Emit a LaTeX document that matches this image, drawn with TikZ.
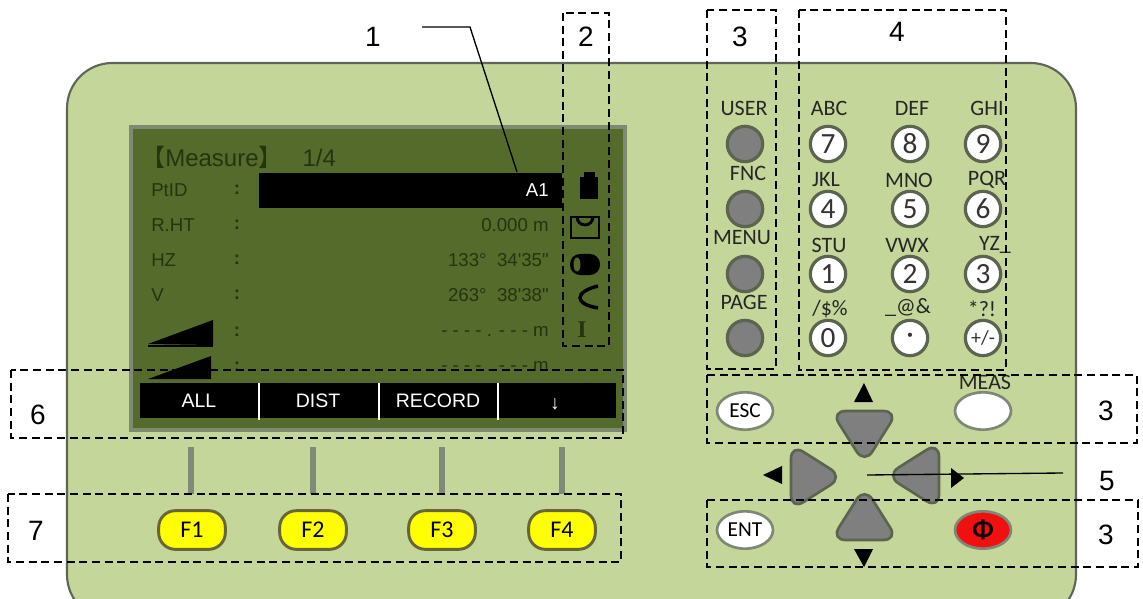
\documentclass[tikz,border=0pt]{standalone}
\usepackage{fontspec}
\setmainfont{Liberation Sans}
\newfontfamily\lcdfont{Liberation Sans}
\newfontfamily\iconfont{Liberation Serif}
\newfontfamily\keyfont{Carlito}
\newfontfamily\cjkfont{Noto Sans CJK SC}
\usetikzlibrary{arrows.meta,positioning,calc,shapes.geometric}
\definecolor{BodyGreen}{HTML}{C4D699}
\definecolor{BodyRim}{HTML}{5F6657}
\definecolor{LcdGreen}{HTML}{556B2B}
\definecolor{LcdRim}{HTML}{7E8A72}
\definecolor{LcdInk}{HTML}{26330F}
\definecolor{KeyGray}{HTML}{7F7F7F}
\definecolor{KeyRim}{HTML}{5C6450}
\definecolor{OvalRim}{HTML}{7F8876}
\definecolor{StemGray}{HTML}{7F8A78}
\definecolor{SoftYellow}{HTML}{FFFF00}
\definecolor{SoftRim}{HTML}{66663A}
\definecolor{PowerRed}{HTML}{F01010}
\tikzset{
  group/.style={draw=black,dashed,dash pattern=on 6pt off 3.5pt,line width=1.4pt},
  callout/.style={font=\fontsize{21}{24}\selectfont,inner sep=0pt},
  leader/.style={draw=black,line width=1pt},
  lcdlabel/.style={font=\lcdfont\fontsize{14}{16}\selectfont,text=LcdInk,inner sep=0pt},
  lcdvalue/.style={lcdlabel,anchor=east},
  softlabel/.style={font=\lcdfont\fontsize{14.6}{16}\selectfont,text=white,inner sep=0pt},
  keylabel/.style={font=\keyfont\fontsize{16.5}{18}\selectfont,text=black!85,inner sep=0pt},
  roundkey/.style={circle,draw=KeyRim,line width=2.4pt,minimum size=26.5pt,inner sep=0pt},
  graykey/.style={roundkey,fill=KeyGray},
  numkey/.style={roundkey,fill=white,font=\keyfont\fontsize{22}{24}\selectfont,text=black!80},
  ovalkey/.style={ellipse,draw=OvalRim,line width=2pt,fill=white,minimum width=42pt,minimum height=28pt,
    inner sep=0pt,font=\keyfont\fontsize{16}{18}\selectfont},
  softkey/.style={rectangle,rounded corners=12.5pt,draw=SoftRim,line width=2.2pt,fill=SoftYellow,
    minimum width=50pt,minimum height=29pt,inner sep=0pt,font=\keyfont\fontsize{18}{20}\selectfont},
  padkey/.style={draw=KeyRim,line width=2pt,fill=KeyGray,rounded corners=11pt},
  stem/.style={draw=StemGray,line width=5.2pt},
}
\begin{document}
\begin{tikzpicture}[x=.75pt,y=-.75pt,>=Latex]
  \clip (0,0) rectangle (1143,599);
  \draw[fill=BodyGreen,draw=BodyRim,line width=1.6pt,rounded corners=34pt] (67,63) rectangle (1076,620);

  \draw[fill=LcdGreen,draw=LcdRim,line width=2.4pt] (131,127) rectangle (625,430);
  \node[anchor=west,inner sep=0pt,text=LcdInk,font=\fontsize{18}{20}\selectfont] (title) at (141,157)
    {{\cjkfont 【}Measure{\cjkfont 】}\hspace{10pt} 1/4};
  \fill[black] (259,173) rectangle (562,208);
  \foreach \name/\txt/\rowy in {ptid/PtID/190,rht/R.HT/225,hz/HZ/260,vert/V/295}
    \node[lcdlabel,anchor=west] (\name) at (151,\rowy) {\txt};
  \foreach \rowy [count=\i] in {190,225,260,295,332,367}
    \node[lcdlabel,font=\lcdfont\bfseries\fontsize{14}{16}\selectfont] (colon\i) at (237,\rowy) {:};
  \node[lcdvalue,text=white] (ptval) at (549,190) {A1};
  \node[lcdvalue] (rhtval) at (549,225) {0.000 m};
  \node[lcdvalue] (hzval) at (549,260) {133°\ \ 34'35"};
  \node[lcdvalue] (vval) at (549,295) {263°\ \ 38'38"};
  \node[lcdvalue] (slope) at (549,331) {- - - - . - - - m};
  \node[lcdvalue] (slopeb) at (549,366) {- - - - . - - - m};
  \fill[black] (148,344) -- (213,320) -- (213,345) -- cycle;
  \draw[black,line width=.8pt] (148,346) -- (213,346);
  \fill[black] (148,379) -- (211,356) -- (211,379) -- cycle;

  \fill[black] (140,383) rectangle (616,418);
  \foreach \sepx in {259,379,498}
    \draw[white,line width=.9pt] (\sepx,383) -- (\sepx,420);
  \foreach \name/\txt/\softx in {all/ALL/199,dist/DIST/318,record/RECORD/438}
    \node[softlabel] (\name) at (\softx,401) {\txt};
  \node[softlabel] (down) at (555,404) {↓};

  \fill[black] (580,177) rectangle (598,199);
  \fill[black] (584,172) rectangle (595,178);
  \draw[black,line width=2.2pt] (571,217) rectangle (599,238);
  \draw[black,line width=2.2pt] (577,217) arc[start angle=180,end angle=0,radius=8];
  \fill[black,rounded corners=7.5pt] (570,254) rectangle (600,275);
  \fill[LcdGreen] (577,264.5) ellipse[x radius=3.5,y radius=7];
  \draw[black,line width=2.6pt] (598,286) .. controls (574,292) and (574,304) .. (598,308);
  \node[inner sep=0pt,text=LcdInk,font=\iconfont\bfseries\fontsize{18}{20}\selectfont] (iconi) at (582,330) {I};

  \foreach \stemx in {191,313,442,562}
    \draw[stem] (\stemx,447) -- (\stemx,494);
  \foreach \i/\softx in {1/192,2/313,3/442,4/562}
    \node[softkey] (f\i) at (\softx,530) {F\i};

  \foreach \name/\txt/\labx/\rowy in {user/USER/744/144,fnc/FNC/748/209,menu/MENU/742/274,page/PAGE/744/338}{
    \node[graykey] (\name) at (745,\rowy) {};
    \node[keylabel] (\name lab) at (\labx,\rowy-36) {\txt};
  }
  \foreach \d/\keyx/\rowy in {7/828/144,8/910/144,9/983/144,4/828/209,5/910/209,6/983/209,1/828/274,2/910/274,3/983/274,0/828/338}
    \node[numkey] (key\d) at (\keyx,\rowy) {\d};
  \node[numkey] (keydot) at (910,338) {·};
  \node[numkey,font=\keyfont\fontsize{15}{17}\selectfont] (keypm) at (983,338) {+/-};
  \foreach \name/\txt/\labx/\laby in {abc/ABC/829/108,def/DEF/912/108,ghi/GHI/987/108,jkl/JKL/826/180,
      mno/MNO/909/180,pqr/PQR/987/180,stu/STU/829/245,vwx/VWX/907/245,yz/YZ\_/995/245,
      ast/*?!/982/309,amp/\_@\&/908/307}
    \node[keylabel] (\name) at (\labx,\laby) {\txt};
  \node[keylabel] (sym) at (830,309) {/\$\%};

  \node[ovalkey] (esc) at (745,411) {ESC};
  \node[ovalkey] (meas) at (983,411) {};
  \node[keylabel] (measlab) at (985,382) {MEAS};
  \node[ovalkey] (ent) at (745,530) {ENT};
  \node[ovalkey,fill=PowerRed,font=\keyfont\bfseries\fontsize{20}{22}\selectfont] (power) at (983,530) {Φ};

  \draw[padkey] (831,411) -- (898,411) -- (864.5,464) -- cycle;
  \draw[padkey] (831,540) -- (898,540) -- (864.5,487) -- cycle;
  \draw[padkey] (791,444) -- (791,510) -- (843,477) -- cycle;
  \draw[padkey] (939,442) -- (939,509) -- (886,475.5) -- cycle;
  \fill[black] (864,383) -- (873,402) -- (854,402) -- cycle;
  \fill[black] (864,567) -- (873,549) -- (854,549) -- cycle;
  \fill[black] (763,475) -- (782,466) -- (782,484) -- cycle;
  \fill[black] (964,478) -- (951,468) -- (951,488) -- cycle;

  \draw[group] (563,13) rectangle (609,346);
  \draw[group] (707,10) rectangle (776,369);
  \draw[group] (799,10) rectangle (1006,370);
  \draw[group] (707,375) rectangle (1137,443);
  \draw[group] (707,500) rectangle (1138,567);
  \draw[group] (11,370) rectangle (623,438);
  \draw[group] (8,494) rectangle (621,562);

  \node[callout] (one) at (373,37) {1};
  \node[callout] (two) at (586,37) {2};
  \node[callout] (three) at (740,37) {3};
  \node[callout] (four) at (897,32) {4};
  \node[callout] (threeb) at (1106,411) {3};
  \node[callout] (five) at (1107,481) {5};
  \node[callout] (threec) at (1106,535) {3};
  \node[callout] (six) at (38,415) {6};
  \node[callout] (seven) at (36,531) {7};

  \coordinate (oneend) at (517,172);
  \coordinate (onebend) at (470,27);
  \coordinate (onestart) at (422,27);
  \coordinate (fiveend) at (867,475);
  \coordinate (fivestart) at (1063,473);
  \draw[leader] (onestart) -- (onebend) -- (oneend);
  \draw[leader] (fivestart) -- (fiveend);
\end{tikzpicture}
\end{document}
